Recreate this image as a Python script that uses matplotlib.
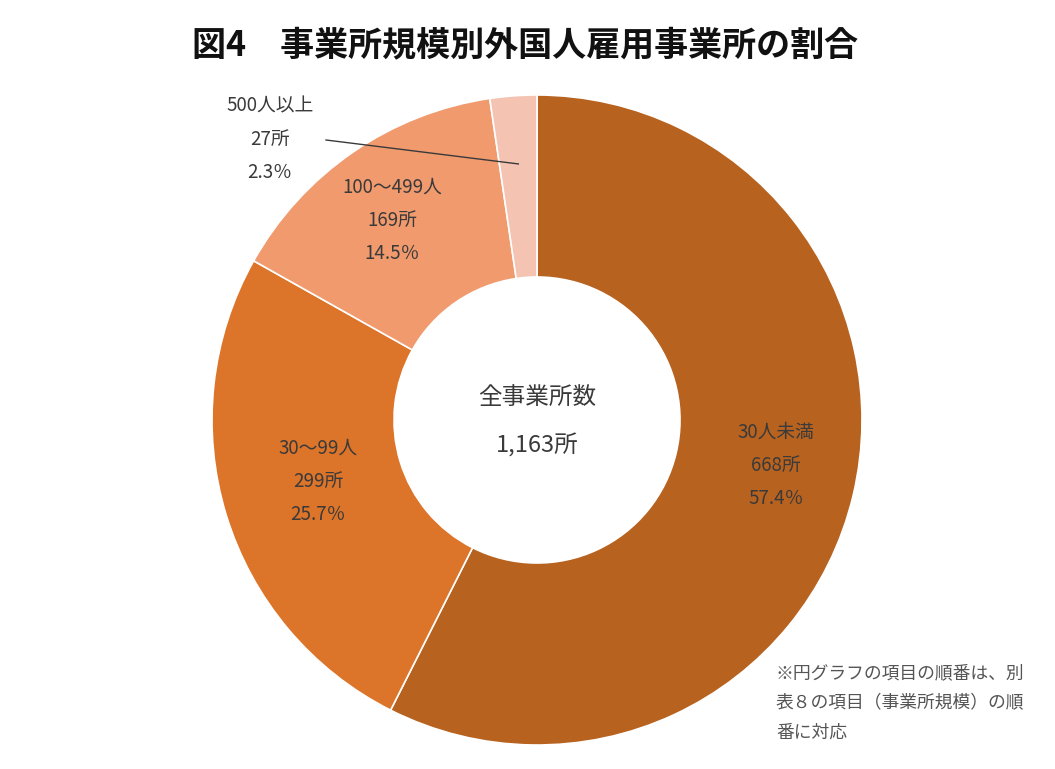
import matplotlib
matplotlib.use("Agg")
import matplotlib.pyplot as plt
import numpy as np

categories = ["30人未満", "30～99人", "100～499人", "500人以上"]
counts = [668, 299, 169, 27]
percents = [57.4, 25.7, 14.5, 2.3]
total = 1163
colors = ["#B8621F", "#DC7429", "#F09A6E", "#F4C3B2"]

title = "図4　事業所規模別外国人雇用事業所の割合"
center_lines = ["全事業所数", "1,163所"]
note_lines = ["※円グラフの項目の順番は、別", "表８の項目（事業所規模）の順", "番に対応"]

plt.rcParams['font.family'] = ['Noto Sans CJK JP', 'DejaVu Sans']

W, H = 1055, 769
fig = plt.figure(figsize=(W / 100, H / 100), dpi=100)
ax = fig.add_axes([0, 0, 1, 1])
cx, cy, R = 537, H - 420, 325
wedges, _ = ax.pie(counts, colors=colors, startangle=90, counterclock=False,
                   center=(cx, cy), radius=R, frame=True,
                   wedgeprops=dict(width=R * 0.56, edgecolor="white", linewidth=1.2))
ax.set_xlim(0, W)
ax.set_ylim(0, H)
ax.set_aspect("equal")
ax.axis("off")

txt_color = "#3a3a3a"
fs = 13.5
gap = 33
# label centres (layout, pixel coords from top-left)
label_pos = [(776, 465), (318, 481), (392, 220), (270, 139)]
for i in range(4):
    x, y = label_pos[i]
    y = H - y
    lines = [categories[i], f"{counts[i]}所", f"{percents[i]}％"]
    for k, s in enumerate(lines):
        ax.text(x, y + gap - k * gap, s, ha="center", va="center", fontsize=fs, color=txt_color)

# leader line for the small slice
w = wedges[3]
ang = np.deg2rad((w.theta1 + w.theta2) / 2)
px = cx + R * 0.79 * np.cos(ang)
py = cy + R * 0.79 * np.sin(ang)
ax.plot([326, px], [H - 140, py], color="#3a3a3a", lw=1)

ax.text(cx, H - 397, center_lines[0], ha="center", va="center", fontsize=17, color=txt_color)
ax.text(cx, H - 446, center_lines[1], ha="center", va="center", fontsize=17, color=txt_color)

ax.text(525, H - 45, title, ha="center", va="center", fontsize=24.5, fontweight="bold", color="#111111")

for k, s in enumerate(note_lines):
    ax.text(776, H - 673 - k * 30, s, ha="left", va="center", fontsize=12.8, color="#555555")

fig.savefig("out.png", dpi=100, facecolor="white")
